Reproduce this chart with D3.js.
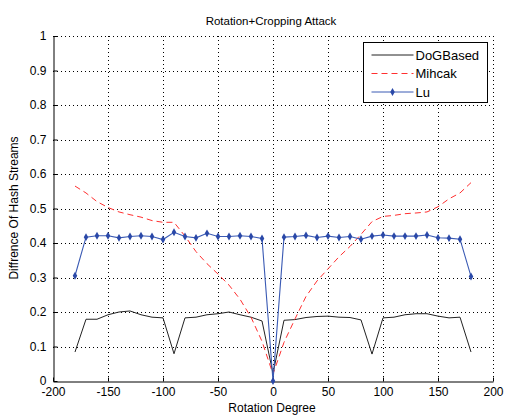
<!DOCTYPE html>
<html>
<head>
<meta charset="utf-8">
<script src="https://d3js.org/d3.v7.min.js"></script>
<style>
body { margin: 0; background: #fff; }
text { font-family: "Liberation Sans", Arial, sans-serif; }
</style>
</head>
<body>
<script>
// data
var degrees = [-180,-170,-160,-150,-140,-130,-120,-110,-100,-90,-80,-70,-60,-50,-40,-30,-20,-10,0,
	10,20,30,40,50,60,70,80,90,100,110,120,130,140,150,160,170,180];
var dogBased = [0.084,0.179,0.179,0.192,0.200,0.203,0.192,0.185,0.183,0.079,0.183,0.185,0.192,0.195,0.200,0.192,0.185,0.174,0.022,
	0.176,0.178,0.184,0.187,0.188,0.185,0.184,0.177,0.078,0.183,0.185,0.192,0.195,0.195,0.188,0.183,0.185,0.084];
var mihcak = [0.565,0.545,0.520,0.503,0.490,0.482,0.475,0.465,0.460,0.460,0.420,0.375,0.340,0.310,0.278,0.237,0.185,0.115,0.020,
	0.112,0.180,0.245,0.290,0.325,0.360,0.390,0.425,0.462,0.477,0.480,0.485,0.487,0.490,0.505,0.528,0.545,0.575];
var lu = [0.305,0.417,0.421,0.421,0.415,0.419,0.421,0.419,0.410,0.431,0.419,0.415,0.428,0.419,0.419,0.421,0.419,0.413,0.0,
	0.417,0.419,0.422,0.416,0.420,0.416,0.419,0.411,0.420,0.423,0.420,0.420,0.420,0.423,0.415,0.414,0.411,0.303];
var xTicks = [-200,-150,-100,-50,0,50,100,150,200];
var yTicks = [0,0.1,0.2,0.3,0.4,0.5,0.6,0.7,0.8,0.9,1];
var seriesNames = ["DoGBased","Mihcak","Lu"];

var width = 505, height = 415;
var pLeft = 53, pRight = 493, pTop = 36, pBottom = 381;

var svg = d3.select("body").append("svg")
	.attr("width", width)
	.attr("height", height);

var x = d3.scaleLinear().domain([-200,200]).range([pLeft,pRight]);
var y = d3.scaleLinear().domain([0,1]).range([pBottom,pTop]);

//dotted grid
svg.append("g").selectAll("line")
	.data(xTicks.slice(1))
	.enter().append("line")
	.attr("x1", function(d){ return Math.round(x(d))+0.5; })
	.attr("x2", function(d){ return Math.round(x(d))+0.5; })
	.attr("y1", pTop).attr("y2", pBottom)
	.attr("stroke","#000").attr("stroke-width",1)
	.attr("stroke-dasharray","1,3");
svg.append("g").selectAll("line")
	.data(yTicks.slice(1))
	.enter().append("line")
	.attr("y1", function(d){ return Math.round(y(d))+0.5; })
	.attr("y2", function(d){ return Math.round(y(d))+0.5; })
	.attr("x1", pLeft).attr("x2", pRight)
	.attr("stroke","#000").attr("stroke-width",1)
	.attr("stroke-dasharray","1,3");

//axes
var plain = function(d){ return String(d); };
var xAxis = d3.axisBottom(x).tickValues(xTicks).tickSizeInner(-4).tickSizeOuter(0).tickPadding(6).tickFormat(plain);
var yAxis = d3.axisLeft(y).tickValues(yTicks).tickSizeInner(-4).tickSizeOuter(0).tickPadding(7).tickFormat(plain);

var gx = svg.append("g")
	.attr("transform","translate(0,"+(pBottom+0.5)+")")
	.call(xAxis);
var gy = svg.append("g")
	.attr("transform","translate("+(pLeft+0.5)+",0)")
	.call(yAxis);
[gx,gy].forEach(function(g){
	g.selectAll("text").attr("font-size","12px").attr("fill","#000")
		.style("font-family","'Liberation Sans', Arial, sans-serif");
	g.select(".domain").attr("stroke","#000");
});
gx.selectAll("text").attr("dy","0.72em");

//series
var line = d3.line()
	.x(function(d){ return x(d[0]); })
	.y(function(d){ return y(d[1]); });

svg.append("path")
	.datum(d3.zip(degrees, dogBased))
	.attr("d", line)
	.attr("fill","none").attr("stroke","#222").attr("stroke-width",1);

svg.append("path")
	.datum(d3.zip(degrees, mihcak))
	.attr("d", line)
	.attr("fill","none").attr("stroke","#ff3030").attr("stroke-width",1)
	.attr("stroke-dasharray","6,4");

svg.append("path")
	.datum(d3.zip(degrees, lu))
	.attr("d", line)
	.attr("fill","none").attr("stroke","#3a5ab4").attr("stroke-width",1.1);

svg.append("g").selectAll("path")
	.data(d3.zip(degrees, lu))
	.enter().append("path")
	.attr("d", d3.symbol().type(d3.symbolDiamond).size(18))
	.attr("transform", function(d){ return "translate("+x(d[0])+","+y(d[1])+")"; })
	.attr("fill","#2a48a8");

//legend
var lg = svg.append("g").attr("transform","translate(363.5,42.5)");
lg.append("rect").attr("width",124).attr("height",60)
	.attr("fill","#fff").attr("stroke","#000").attr("stroke-width",1);
var styles = [
	{stroke:"#222", dash:null},
	{stroke:"#ff3030", dash:"6,4"},
	{stroke:"#3a5ab4", dash:null}
];
seriesNames.forEach(function(name,i){
	var yy = 12.5 + i*18.5;
	lg.append("line")
		.attr("x1",8).attr("x2",50).attr("y1",yy).attr("y2",yy)
		.attr("stroke",styles[i].stroke).attr("stroke-width",1)
		.attr("stroke-dasharray",styles[i].dash);
	if(i==2){
		lg.append("path")
			.attr("d", d3.symbol().type(d3.symbolDiamond).size(18))
			.attr("transform","translate(29,"+yy+")")
			.attr("fill","#2a48a8");
	}
	lg.append("text")
		.attr("x",52).attr("y",yy).attr("dy","0.36em")
		.attr("font-size","13px")
		.text(name);
});

//titles
svg.append("text")
	.attr("x",271).attr("y",25)
	.attr("text-anchor","middle")
	.attr("font-size","11.5px")
	.text("Rotation+Cropping Attack");
svg.append("text")
	.attr("x",272).attr("y",412)
	.attr("text-anchor","middle")
	.attr("font-size","12px")
	.text("Rotation Degree");
svg.append("text")
	.attr("transform","translate(18,208) rotate(-90)")
	.attr("text-anchor","middle")
	.attr("font-size","12px")
	.text("Diffrence Of Hash Streams");
</script>
</body>
</html>
